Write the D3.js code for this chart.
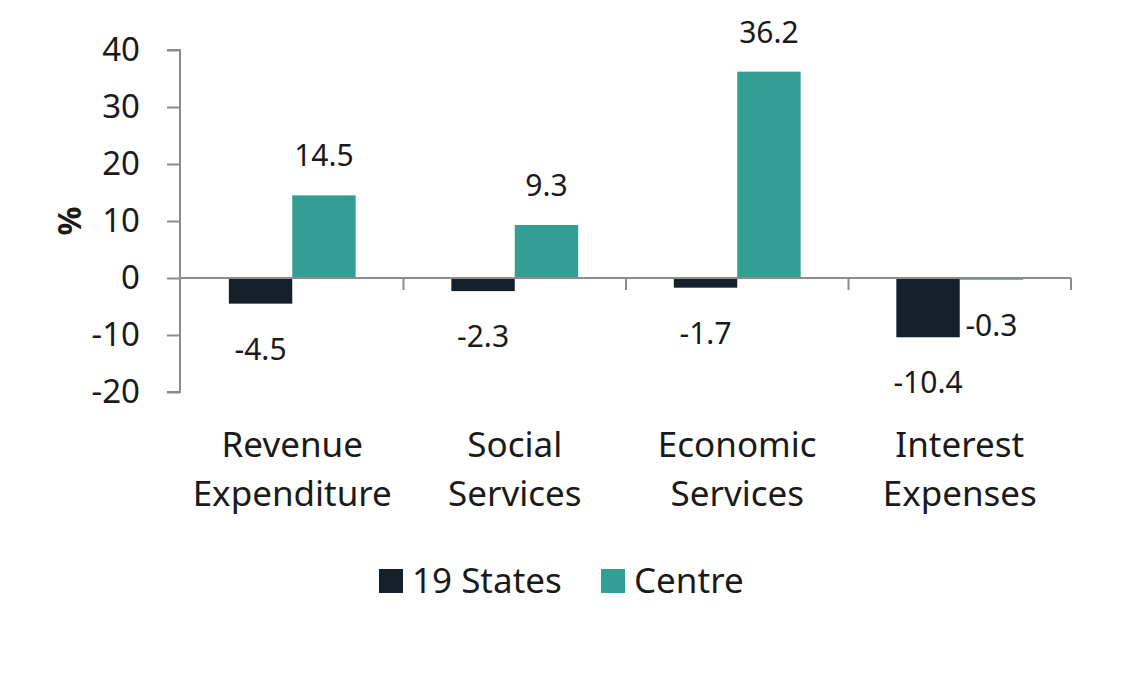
<!DOCTYPE html>
<html>
<head>
<meta charset="utf-8">
<script src="https://cdn.jsdelivr.net/npm/d3@7"></script>
<style>
  html, body { margin: 0; padding: 0; background: #fff; }
  svg text { font-family: "Noto Sans", Lato, sans-serif; fill: #1a1a1a; }
</style>
</head>
<body>
<div id="chart"></div>
<script>
// data
var categories = [["Revenue", "Expenditure"], ["Social", "Services"], ["Economic", "Services"], ["Interest", "Expenses"]];
var seriesNames = ["19 States", "Centre"];
var states = [-4.5, -2.3, -1.7, -10.4];
var centre = [14.5, 9.3, 36.2, -0.3];
var yTicks = [-20, -10, 0, 10, 20, 30, 40];
var colors = ["#16202a", "#339e94"];

var width = 1130, height = 685;
var margin = {top: 50, left: 181, right: 59, bottom: 293};

var svg = d3.select("#chart").append("svg")
    .attr("width", width)
    .attr("height", height);

var x = d3.scaleBand()
    .domain(d3.range(categories.length))
    .range([margin.left, width - margin.right])
    .padding(0);

var groupW = x.bandwidth() * 0.57;
var xs = d3.scaleBand()
    .domain(d3.range(seriesNames.length))
    .range([0, groupW])
    .padding(0);

var y = d3.scaleLinear()
    .domain([-20, 40])
    .range([height - margin.bottom, margin.top]);

var axisColor = "#8c8c8c";
var fmt = function(v) { return d3.format(".1f")(v).replace("\u2212", "-"); };

// y axis
var yAxis = svg.append("g")
    .attr("transform", "translate(" + (margin.left - 1) + ",0)")
    .call(d3.axisLeft(y).tickValues(yTicks).tickSize(13).tickPadding(27)
        .tickFormat(function(d) { return String(d); }));
yAxis.select(".domain").attr("stroke", axisColor).attr("stroke-width", 2)
    .attr("d", "M-13," + y(-20) + "H0V" + y(40) + "H-13");
yAxis.selectAll(".tick line").attr("stroke", axisColor).attr("stroke-width", 2)
    .attr("x2", -13);
yAxis.selectAll(".tick text").style("font-size", "33px").attr("fill", "#1a1a1a")
    .attr("x", -40);

// bars
var data = [];
categories.forEach(function(c, i) {
    [states[i], centre[i]].forEach(function(v, j) {
        data.push({cat: i, s: j, v: v});
    });
});

function barX(d) {
    return x(d.cat) + (x.bandwidth() - groupW) / 2 + xs(d.s);
}

svg.append("g").selectAll("rect")
    .data(data)
    .enter().append("rect")
    .attr("x", barX)
    .attr("width", xs.bandwidth())
    .attr("y", function(d) { return y(Math.max(0, d.v)); })
    .attr("height", function(d) { return Math.abs(y(d.v) - y(0)); })
    .attr("fill", function(d) { return colors[d.s]; });

// x axis
var xAxis = svg.append("g")
    .attr("transform", "translate(0," + y(0) + ")");
xAxis.append("line")
    .attr("x1", margin.left - 1).attr("x2", width - margin.right)
    .attr("stroke", axisColor).attr("stroke-width", 2);
xAxis.selectAll(".xt")
    .data(d3.range(1, categories.length + 1))
    .enter().append("line")
    .attr("x1", function(i) { return margin.left + i * x.bandwidth(); })
    .attr("x2", function(i) { return margin.left + i * x.bandwidth(); })
    .attr("y1", 0).attr("y2", 12)
    .attr("stroke", axisColor).attr("stroke-width", 2);

// category labels
var catLabels = svg.append("g").selectAll("text")
    .data(categories)
    .enter().append("text")
    .attr("text-anchor", "middle")
    .style("font-size", "35px")
    .attr("x", function(d, i) { return x(i) + x.bandwidth() / 2; })
    .attr("y", 457);
catLabels.selectAll("tspan")
    .data(function(d) { return d; })
    .enter().append("tspan")
    .attr("x", function() { return d3.select(this.parentNode).attr("x"); })
    .attr("dy", function(d, i) { return i === 0 ? 0 : 49; })
    .text(function(d) { return d; });

// value labels
svg.append("g").selectAll("text")
    .data(data)
    .enter().append("text")
    .attr("text-anchor", "middle")
    .style("font-size", "30px")
    .attr("x", function(d) { return barX(d) + xs.bandwidth() / 2; })
    .attr("y", function(d) { return d.v >= 0 ? y(d.v) - 29 : y(d.v) + 56; })
    .text(function(d) { return fmt(d.v); });

// y title
svg.append("text")
    .attr("transform", "translate(81,221) rotate(-90)")
    .attr("text-anchor", "middle")
    .style("font-size", "32px")
    .style("font-weight", "bold")
    .text("%");

// legend
var legend = svg.append("g");
var legendX = [379, 601];
seriesNames.forEach(function(n, i) {
    legend.append("rect")
        .attr("x", legendX[i]).attr("y", 569)
        .attr("width", 24).attr("height", 24)
        .attr("fill", colors[i]);
    legend.append("text")
        .attr("x", legendX[i] + 33).attr("y", 593)
        .style("font-size", "35px")
        .text(n);
});
</script>
</body>
</html>
